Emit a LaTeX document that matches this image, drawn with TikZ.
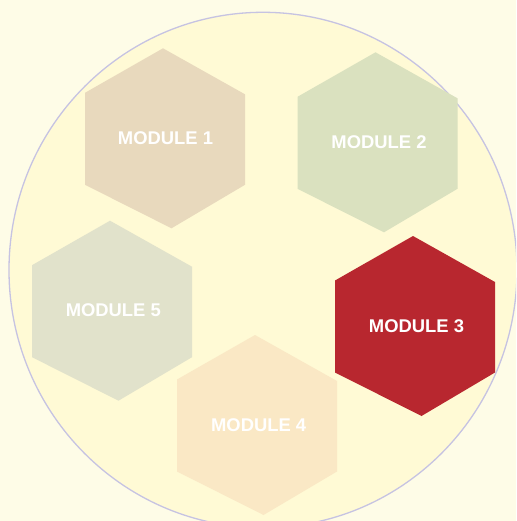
\documentclass[tikz,border=0pt]{standalone}
\usepackage{fontspec}
\setmainfont{Liberation Sans}
\definecolor{bgcol}{HTML}{FEFCE7}
\definecolor{circfill}{HTML}{FFFAD5}
\definecolor{circline}{HTML}{C6C3E2}
\definecolor{mone}{HTML}{E8D9BD}
\definecolor{mtwo}{HTML}{DAE1BF}
\definecolor{mthree}{HTML}{B8272F}
\definecolor{mfour}{HTML}{FAE8C5}
\definecolor{mfive}{HTML}{E1E2CB}
\newcommand{\modhex}[3]{%
  \begin{scope}[shift={(#1,#2)}]
    \fill[#3] (78,0) -- (160,46) -- (160,136.5) -- (86.5,180) -- (0,136.5) -- (0,44.5) -- cycle;
  \end{scope}}
\tikzset{
  modlabel/.style={text=white, font=\fontsize{18.4}{22}\selectfont\bfseries,
    inner sep=0pt, text height=13.2pt, text depth=0pt, anchor=center}
}
\begin{document}
\begin{tikzpicture}[x=1pt, y=-1pt]
  \useasboundingbox (0,0) rectangle (516,521);
  \fill[bgcol] (0,0) rectangle (516,521);
  \begin{scope}
    \clip (0,0) rectangle (516,521);
    \filldraw[fill=circfill, draw=circline, line width=1.3pt] (263,270) ellipse [x radius=254, y radius=257.7];
  \end{scope}
  \modhex{85}{48.3}{mone}
  \modhex{297.5}{52.3}{mtwo}
  \modhex{335}{236}{mthree}
  \modhex{32}{220.7}{mfive}
  \modhex{177}{335}{mfour}
  \node[modlabel] (m1) at (165.5,138) {MODULE 1};
  \node[modlabel] (m2) at (379,142) {MODULE 2};
  \node[modlabel] (m3) at (416.5,325.7) {MODULE 3};
  \node[modlabel] (m5) at (113.3,310.3) {MODULE 5};
  \node[modlabel] (m4) at (258.7,425) {MODULE 4};
\end{tikzpicture}
\end{document}
